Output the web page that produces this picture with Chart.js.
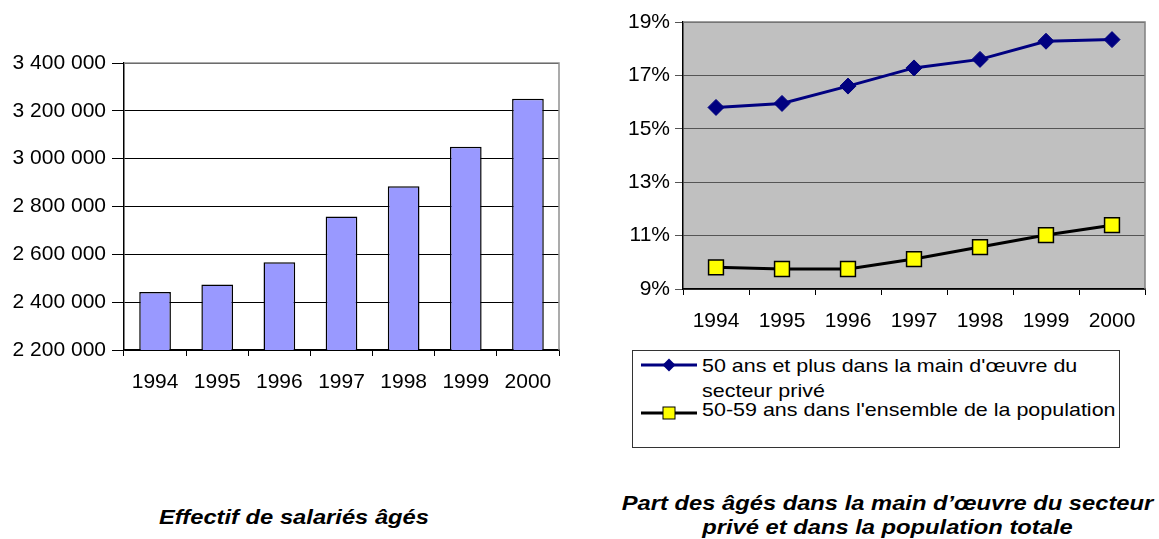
<!DOCTYPE html>
<html><head><meta charset="utf-8">
<script src="https://cdn.jsdelivr.net/npm/chart.js@4"></script>
<style>
body{margin:0;background:#fff;width:1159px;height:539px;position:relative;overflow:hidden;font-family:"Liberation Sans",Arial,sans-serif;}
#c1{position:absolute;left:0;top:0;}
#c2{position:absolute;left:600px;top:0;}
.t{position:absolute;font-weight:bold;font-style:italic;font-size:21px;color:#000;text-align:center;white-space:nowrap;transform:scaleX(1.13);}
#leg{position:absolute;left:632px;top:350px;width:486px;height:96px;border:1px solid #333;}
.li{position:absolute;left:69px;font-size:19px;line-height:20px;white-space:nowrap;color:#000;transform:scaleX(1.13);transform-origin:0 0;}
.sym{position:absolute;left:8px;}
</style></head><body>
<canvas id="c1" width="580" height="400"></canvas>
<canvas id="c2" width="559" height="340"></canvas>
<div id="leg">
 <svg class="sym" style="top:6px" width="58" height="16"><line x1="0" y1="8" x2="56" y2="8" stroke="#000080" stroke-width="3"/><polygon points="28,1.5 34.5,8 28,14.5 21.5,8" fill="#000080"/></svg>
 <div class="li" style="top:5px">50 ans et plus dans la main d'œuvre du</div>
 <div class="li" style="top:30px">secteur privé</div>
 <svg class="sym" style="top:54px" width="58" height="16"><line x1="0" y1="8" x2="56" y2="8" stroke="#000" stroke-width="3"/><rect x="22" y="2" width="12" height="12" fill="#FFFF00" stroke="#000" stroke-width="1"/></svg>
 <div class="li" style="top:49px">50-59 ans dans l'ensemble de la population</div>
</div>
<div class="t" style="left:94px;width:400px;top:505px">Effectif de salariés âgés</div>
<div class="t" style="left:608px;width:559px;top:491px;line-height:24px">Part des âgés dans la main d’œuvre du secteur<br>privé et dans la population totale</div>
<script>
const years = ['1994','1995','1996','1997','1998','1999','2000'];
const salaries = [2442000, 2474000, 2567000, 2758000, 2885000, 3050000, 3251000];
const partPrive = [15.8, 15.95, 16.6, 17.28, 17.6, 18.28, 18.34];
const partPop = [9.81, 9.75, 9.75, 10.12, 10.57, 11.02, 11.39];
const FONT = {family:'"Liberation Sans", Arial, sans-serif', size:21};
Chart.defaults.color = '#000';
Chart.defaults.font = FONT;
const frame = (col) => ({
  id:'frame',
  beforeDatasetsDraw(ch){
    const a = ch.chartArea, c = ch.ctx;
    c.save(); c.strokeStyle = col; c.lineWidth = 1.5;
    c.beginPath(); c.moveTo(a.left, a.top); c.lineTo(a.right, a.top); c.lineTo(a.right, a.bottom); c.stroke();
    c.restore();
  }
});
const bgPlugin = {
  id:'bg',
  beforeDraw(ch){ const a = ch.chartArea, c = ch.ctx; c.save(); c.fillStyle = '#C0C0C0'; c.fillRect(a.left, a.top, a.right-a.left, a.bottom-a.top); c.restore(); }
};
const fmt = v => String(v).replace(/\B(?=(\d{3})+(?!\d))/g, ' ');

new Chart(document.getElementById('c1'), {
  type:'bar',
  data:{labels:years, datasets:[{data:salaries, backgroundColor:'#9999FF', borderColor:'#000', borderWidth:1.5, categoryPercentage:1, barPercentage:0.51}]},
  options:{
    responsive:false, animation:false,
    layout:{padding:{top:63, right:21, left:0, bottom:0}},
    plugins:{legend:{display:false}, tooltip:{enabled:false}},
    scales:{
      x:{grid:{drawOnChartArea:false, drawTicks:true, tickLength:6, color:'#000', offset:true}, border:{color:'#000', width:1.5},
         ticks:{padding:14, font:FONT}, afterFit(s){s.height=50;}},
      y:{min:2200000, max:3400000, ticks:{stepSize:200000, callback:fmt, padding:6, font:FONT},
         grid:{color:'#000', lineWidth:1, tickLength:12, drawTicks:true}, border:{color:'#000', width:1.5},
         afterFit(s){s.width=124;}}
    }
  },
  plugins:[frame('#909090')]
});

new Chart(document.getElementById('c2'), {
  type:'line',
  data:{labels:years, datasets:[
    {data:partPrive, borderColor:'#000080', borderWidth:3, pointStyle:'rectRot', pointRadius:8, pointBackgroundColor:'#000080', pointBorderColor:'#000080', pointBorderWidth:1, tension:0},
    {data:partPop, borderColor:'#000', borderWidth:3, pointStyle:'rect', pointRadius:10.5, pointBackgroundColor:'#FFFF00', pointBorderColor:'#000', pointBorderWidth:1.5, tension:0}
  ]},
  options:{
    responsive:false, animation:false,
    layout:{padding:{top:22, right:14, left:0, bottom:0}},
    plugins:{legend:{display:false}, tooltip:{enabled:false}},
    scales:{
      x:{offset:true, grid:{offset:true, drawOnChartArea:false, drawTicks:true, tickLength:6, color:'#000'}, border:{color:'#000', width:1.5},
         ticks:{padding:14, font:FONT}, afterFit(s){s.height=51;}},
      y:{min:9, max:19, ticks:{stepSize:2, callback:v=>v+'%', padding:5, font:FONT},
         grid:{color:'#555', lineWidth:1, tickLength:8, drawTicks:true}, border:{color:'#000', width:1.5},
         afterFit(s){s.width=83;}}
    }
  },
  plugins:[bgPlugin, frame('#808080')]
});
</script>
</body></html>
